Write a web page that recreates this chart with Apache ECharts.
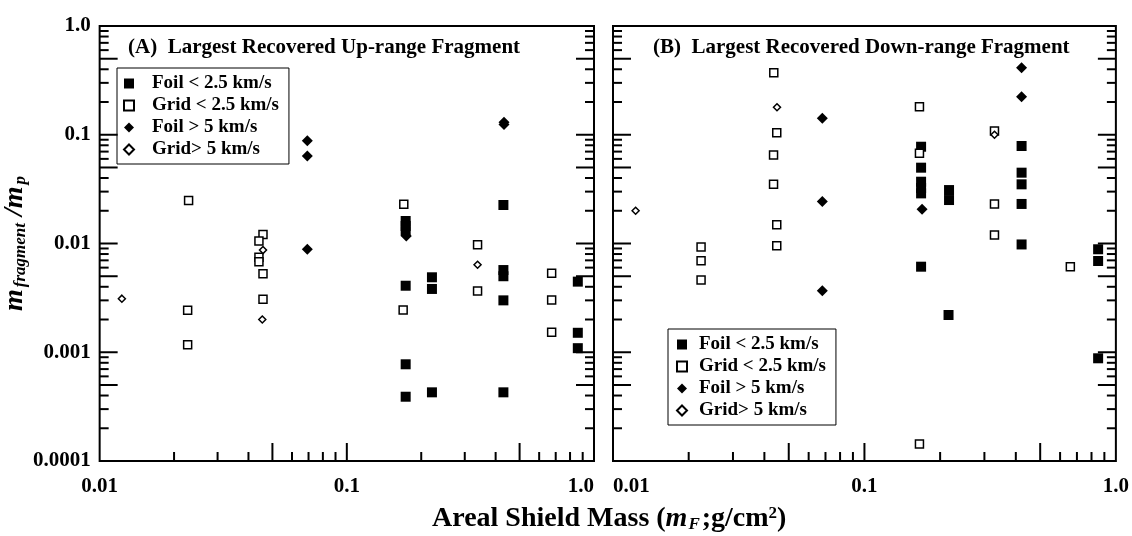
<!DOCTYPE html>
<html>
<head>
    <meta charset="utf-8">
    <title>Largest recovered fragments</title>
    <script src="https://cdn.jsdelivr.net/npm/echarts@6/dist/echarts.min.js"></script>
</head>
<body style="margin:0">
<div id="main" style="width: 1132px;height:536px;"></div>
<script type="text/javascript">
    // panel A : up-range fragment  [areal mass g/cm2, m_fragment/m_p]
    var aFoilSlow = [
        [0.173, 0.0161], [0.173, 0.0145], [0.173, 0.0130], [0.173, 0.00409],
        [0.221, 0.00489], [0.221, 0.00382], [0.173, 0.000775], [0.173, 0.00039],
        [0.221, 0.000428], [0.43, 0.0226], [0.43, 0.0057], [0.43, 0.0050],
        [0.43, 0.0030], [0.43, 0.000428], [0.86, 0.00446], [0.86, 0.00151], [0.86, 0.00109]
    ];
    var aGridSlow = [
        [0.0229, 0.0248], [0.0227, 0.00243], [0.0227, 0.00117], [0.0458, 0.0121],
        [0.0441, 0.01055], [0.0441, 0.00746], [0.0441, 0.0068], [0.0458, 0.00527],
        [0.0458, 0.00307], [0.170, 0.0229], [0.169, 0.00245], [0.338, 0.00975],
        [0.338, 0.00366], [0.674, 0.00532], [0.674, 0.00302], [0.674, 0.00153]
    ];
    var aFoilFast = [
        [0.0692, 0.0882], [0.0692, 0.0638], [0.0692, 0.00884],
        [0.4325, 0.130], [0.4325, 0.124], [0.174, 0.0117]
    ];
    var aGridFast = [[0.0123, 0.00311], [0.0458, 0.0087], [0.0455, 0.0020], [0.338, 0.00638]];

    // panel B : down-range fragment
    var bFoilSlow = [
        [0.168, 0.0776], [0.168, 0.0498], [0.168, 0.037], [0.168, 0.0324],
        [0.168, 0.0289], [0.168, 0.00612], [0.217, 0.031], [0.217, 0.0251],
        [0.216, 0.0022], [0.4217, 0.0788], [0.4217, 0.0448], [0.4217, 0.035],
        [0.4217, 0.0231], [0.4217, 0.0098], [0.85, 0.00885], [0.85, 0.0069], [0.85, 0.00088]
    ];
    var bGridSlow = [
        [0.0436, 0.372], [0.0448, 0.1045], [0.0435, 0.0651], [0.0435, 0.035],
        [0.0448, 0.0149], [0.0448, 0.00955], [0.0224, 0.0093], [0.0224, 0.00695],
        [0.0224, 0.00462], [0.1655, 0.181], [0.1655, 0.0675], [0.329, 0.108],
        [0.329, 0.0231], [0.329, 0.012], [0.659, 0.00612], [0.1655, 0.000143]
    ];
    var bFoilFast = [
        [0.068, 0.1416], [0.068, 0.0243], [0.068, 0.00368],
        [0.4217, 0.414], [0.4217, 0.224], [0.1695, 0.0206]
    ];
    var bGridFast = [[0.0123, 0.020], [0.0449, 0.179], [0.329, 0.100]];

    var seriesNames = ['Foil < 2.5 km/s', 'Grid < 2.5 km/s', 'Foil > 5 km/s', 'Grid> 5 km/s'];

    // axes
    var xMin = 0.01, xMax = 1;
    var yMin = 0.0001, yMax = 1;
    var xTickValues = [0.01, 0.1, 1];
    var xTickLabels = ['0.01', '0.1', '1.0'];
    var yTickValues = [0.0001, 0.001, 0.01, 0.1, 1];
    var yTickLabels = ['0.0001', '0.001', '0.01', '0.1', '1.0'];
    var xTicksMajor = [0.05, 0.1, 0.5];
    var xTicksMinor = [0.02, 0.03, 0.04, 0.06, 0.07, 0.08, 0.09, 0.2, 0.3, 0.4, 0.6, 0.7, 0.8, 0.9];
    var yTicksMajor = [0.0005, 0.001, 0.005, 0.01, 0.05, 0.1, 0.5];
    var yTicksMinor = [0.0002, 0.0003, 0.0004, 0.0006, 0.0007, 0.0008, 0.0009,
        0.002, 0.003, 0.004, 0.006, 0.007, 0.008, 0.009,
        0.02, 0.03, 0.04, 0.06, 0.07, 0.08, 0.09,
        0.2, 0.3, 0.4, 0.6, 0.7, 0.8, 0.9];

    var SERIF = '"Liberation Serif", "Times New Roman", serif';

    function lookup(values, labels) {
        return function (v) {
            for (var i = 0; i < values.length; i++) {
                if (Math.abs(Math.log10(v) - Math.log10(values[i])) < 1e-6) return labels[i];
            }
            return '';
        };
    }

    // inward ticks on bottom, left and right edges
    var tickData = [];
    xTicksMajor.forEach(function (v) { tickData.push([v, yMin, 0, 18]); });
    xTicksMinor.forEach(function (v) { tickData.push([v, yMin, 0, 9]); });
    yTicksMajor.forEach(function (v) { tickData.push([xMin, v, 1, 18]); });
    yTicksMinor.forEach(function (v) { tickData.push([xMin, v, 1, 9]); });

    function renderTick(params, api) {
        var len = api.value(3);
        var p = api.coord([api.value(0), api.value(1)]);
        var st = {stroke: '#000', lineWidth: 2};
        if (api.value(2) === 0) {
            return {type: 'line', shape: {x1: p[0], y1: p[1], x2: p[0], y2: p[1] - len}, style: st};
        }
        var q = api.coord([xMax, api.value(1)]);
        return {
            type: 'group', children: [
                {type: 'line', shape: {x1: p[0], y1: p[1], x2: p[0] + len, y2: p[1]}, style: st},
                {type: 'line', shape: {x1: q[0], y1: q[1], x2: q[0] - len, y2: q[1]}, style: st}
            ]
        };
    }

    var styles = [
        {symbol: 'rect', symbolSize: 10, itemStyle: {color: '#000', opacity: 1}},
        {symbol: 'rect', symbolSize: 8, itemStyle: {color: '#fff', borderColor: '#000', borderWidth: 1.5, opacity: 1}},
        {symbol: 'diamond', symbolSize: 11, itemStyle: {color: '#000', opacity: 1}},
        {symbol: 'diamond', symbolSize: 7, itemStyle: {color: '#fff', borderColor: '#000', borderWidth: 1.5, opacity: 1}}
    ];
    var panels = [[aFoilSlow, aGridSlow, aFoilFast, aGridFast], [bFoilSlow, bGridSlow, bFoilFast, bGridFast]];

    var series = [];
    panels.forEach(function (sets, g) {
        series.push({
            type: 'custom', xAxisIndex: g, yAxisIndex: g, silent: true, clip: false,
            renderItem: renderTick, encode: {x: 0, y: 1}, data: tickData, z: 1
        });
        sets.forEach(function (d, i) {
            series.push({
                name: seriesNames[i], type: 'scatter', xAxisIndex: g, yAxisIndex: g,
                symbol: styles[i].symbol, symbolSize: styles[i].symbolSize,
                itemStyle: styles[i].itemStyle, data: d, z: 3, silent: true
            });
        });
    });

    function xAxisFor(g) {
        return {
            gridIndex: g, type: 'log', min: xMin, max: xMax,
            axisLine: {show: false}, axisTick: {show: false}, splitLine: {show: false},
            axisLabel: {
                formatter: lookup(xTickValues, xTickLabels), color: '#000',
                fontFamily: SERIF, fontWeight: 'bold', fontSize: 21, margin: 15,
                alignMinLabel: g === 0 ? 'center' : 'left',
                alignMaxLabel: g === 0 ? 'right' : 'center'
            }
        };
    }

    var legendText = {fontFamily: SERIF, fontWeight: 'bold', fontSize: 19, color: '#000', lineHeight: 19};

    var myChart = echarts.init(document.getElementById('main'));
    var option = {
        animation: false,
        backgroundColor: '#fff',
        title: [
            {
                text: '(A)  Largest Recovered Up-range Fragment', left: 128, top: 37, padding: 0,
                textStyle: {fontFamily: SERIF, fontWeight: 'bold', fontSize: 21, color: '#000'}
            },
            {
                text: '(B)  Largest Recovered Down-range Fragment', left: 653, top: 37, padding: 0,
                textStyle: {fontFamily: SERIF, fontWeight: 'bold', fontSize: 21, color: '#000'}
            },
            {
                text: 'Areal Shield Mass ({mi|m}{sub|F}{n|;g/cm}{sup|2}{n|)}', left: 432, top: 505, padding: 0,
                textStyle: {
                    fontFamily: SERIF, fontWeight: 'bold', fontSize: 28, color: '#000',
                    rich: {
                        mi: {fontFamily: SERIF, fontStyle: 'italic', fontWeight: 'bold', fontSize: 28, color: '#000'},
                        sub: {fontFamily: SERIF, fontStyle: 'italic', fontWeight: 'bold', fontSize: 17, color: '#000', verticalAlign: 'bottom', padding: [0, 2, 0, 1]},
                        sup: {fontFamily: SERIF, fontWeight: 'bold', fontSize: 17, color: '#000', verticalAlign: 'top'},
                        n: {fontFamily: SERIF, fontWeight: 'bold', fontSize: 28, color: '#000'}
                    }
                }
            }
        ],
        legend: [
            {
                data: seriesNames, orient: 'vertical', left: 117, top: 68,
                padding: [6, 10, 5, 6], itemGap: 3, itemWidth: 10, itemHeight: 10,
                borderColor: '#000', borderWidth: 1, selectedMode: false,
                textStyle: Object.assign({padding: [0, 0, 0, 13]}, legendText)
            },
            {
                data: seriesNames, orient: 'vertical', left: 668, top: 329,
                padding: [6, 10, 5, 8], itemGap: 3, itemWidth: 10, itemHeight: 10,
                borderColor: '#000', borderWidth: 1, selectedMode: false,
                textStyle: Object.assign({padding: [0, 0, 0, 7]}, legendText)
            }
        ],
        grid: [
            {left: 90, top: 26, width: 504, height: 435, show: true, borderColor: '#000', borderWidth: 2},
            {left: 613, top: 26, width: 505, height: 435, show: true, borderColor: '#000', borderWidth: 2}
        ],
        xAxis: [xAxisFor(0), xAxisFor(1)],
        yAxis: [
            {
                gridIndex: 0, type: 'log', min: yMin, max: yMax,
                axisLine: {show: false}, axisTick: {show: false}, splitLine: {show: false},
                axisLabel: {
                    formatter: lookup(yTickValues, yTickLabels), color: '#000',
                    fontFamily: SERIF, fontWeight: 'bold', fontSize: 21, margin: 9
                },
                name: '{m|m}{s|fragment}{m| /m}{s|p}',
                nameLocation: 'middle', nameRotate: 90, nameGap: 62,
                nameTextStyle: {
                    fontFamily: SERIF, color: '#000',
                    rich: {
                        m: {fontFamily: SERIF, fontStyle: 'italic', fontWeight: 'bold', fontSize: 28, color: '#000'},
                        s: {fontFamily: SERIF, fontStyle: 'italic', fontWeight: 'bold', fontSize: 17, color: '#000', verticalAlign: 'bottom', padding: [0, 0, 0, 2]}
                    }
                }
            },
            {
                gridIndex: 1, type: 'log', min: yMin, max: yMax,
                axisLine: {show: false}, axisTick: {show: false}, splitLine: {show: false},
                axisLabel: {show: false}
            }
        ],
        series: series
    };
    myChart.setOption(option);
</script>
</body>
</html>
